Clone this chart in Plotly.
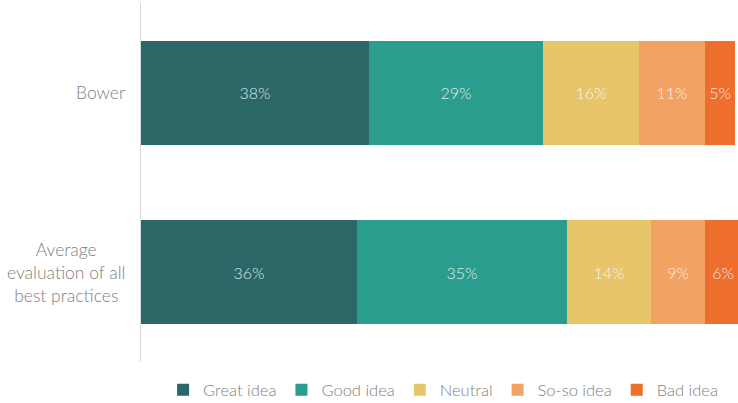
import plotly.graph_objects as go

categories = ["Bower", "Average<br>evaluation of all<br>best practices"]
ratings = ["Great idea", "Good idea", "Neutral", "So-so idea", "Bad idea"]
great_idea = [38, 36]
good_idea = [29, 35]
neutral = [16, 14]
so_so_idea = [11, 9]
bad_idea = [5, 6]
colors = ["#2B6766", "#2A9D8F", "#E8C46B", "#F2A262", "#EE6E2E"]

series = [great_idea, good_idea, neutral, so_so_idea, bad_idea]
font_family = "Lato, 'Open Sans', sans-serif"

fig = go.Figure()
for name, vals, col in zip(ratings, series, colors):
    fig.add_trace(go.Bar(
        y=categories, x=vals, name=name, orientation="h",
        marker=dict(color=col, line=dict(width=0)),
        text=[f"{v}%" for v in vals], textposition="inside",
        insidetextanchor="middle",
        textfont=dict(color="rgba(255,255,255,0.85)", size=16, family=font_family, weight=300),
        width=0.58,
    ))

for cat in categories:
    fig.add_annotation(
        x=0, xref="paper", xanchor="right", xshift=-14,
        y=cat, yref="y", yanchor="middle",
        text=cat, showarrow=False, align="center",
        font=dict(size=17.5, color="#808080", family=font_family, weight=300),
    )

fig.update_layout(
    width=738, height=403,
    margin=dict(l=141, r=0, t=3, b=41, autoexpand=False),
    barmode="stack",
    paper_bgcolor="white", plot_bgcolor="white",
    showlegend=True,
    legend=dict(
        orientation="h", x=0.037, xanchor="left", y=-0.078, yanchor="middle",
        font=dict(size=16.5, color="#808080", family=font_family, weight=300),
        traceorder="normal", itemwidth=30,
    ),
    uniformtext=dict(minsize=10, mode="show"),
)
fig.update_xaxes(range=[0, 99.5], visible=False, fixedrange=True)
fig.update_yaxes(
    categoryorder="array", categoryarray=categories, autorange="reversed",
    showticklabels=False, showgrid=False, zeroline=False,
    showline=True, linecolor="#D9D9D9", linewidth=1, ticks="",
)

fig.write_html("out.html")
